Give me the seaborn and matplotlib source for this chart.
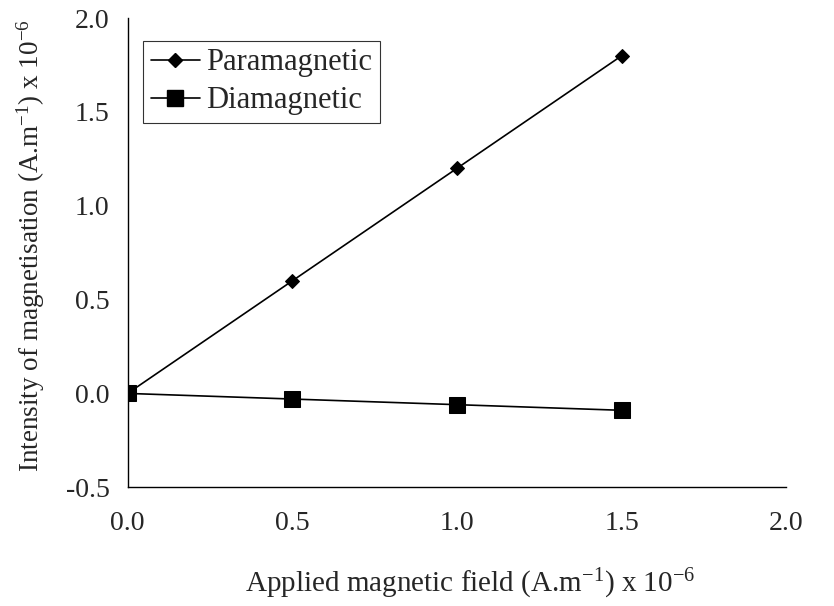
import matplotlib
matplotlib.use("Agg")
import matplotlib.pyplot as plt
import seaborn as sns
import pandas as pd
from matplotlib.lines import Line2D

field = [0.0, 0.5, 1.0, 1.5]
paramagnetic = [0.0, 0.6, 1.2, 1.8]
diamagnetic = [0.0, -0.03, -0.06, -0.09]
series_names = ["Paramagnetic", "Diamagnetic"]
x_ticks = [0.0, 0.5, 1.0, 1.5, 2.0]
y_ticks = [-0.5, 0.0, 0.5, 1.0, 1.5, 2.0]

df = pd.DataFrame({
    "x": field * 2,
    "y": paramagnetic + diamagnetic,
    "series": [series_names[0]] * len(field) + [series_names[1]] * len(field),
})

sns.set_style("white")
plt.rcParams["font.family"] = ["Liberation Serif", "DejaVu Serif"]
plt.rcParams["mathtext.fontset"] = "custom"
plt.rcParams["mathtext.rm"] = "Liberation Serif"
plt.rcParams["mathtext.it"] = "Liberation Serif:italic"

fig = plt.figure(figsize=(8.34, 6.06), dpi=100)
ax = fig.add_axes([0.153, 0.196, 0.79, 0.774])

sns.lineplot(data=df, x="x", y="y", hue="series", style="series",
             palette={"Paramagnetic": "black", "Diamagnetic": "black"},
             markers={"Paramagnetic": "D", "Diamagnetic": "s"},
             dashes=False, linewidth=1.2, ax=ax, legend=False)
for line, ms in zip(ax.lines, [7.5, 12]):
    line.set_markersize(ms)
    line.set_markeredgecolor("black")
    line.set_markerfacecolor("black")

ax.set_xlim(0, 2.0)
ax.set_ylim(-0.5, 2.0)
ax.set_xticks(x_ticks)
ax.set_yticks(y_ticks)
ax.set_xticklabels([f"{v:.1f}" for v in x_ticks], fontsize=20)
ax.set_yticklabels([f"{v:.1f}" for v in y_ticks], fontsize=20)
ax.tick_params(axis="both", direction="out", length=5, width=1, color="black")
ax.tick_params(axis="x", pad=12)
ax.tick_params(axis="y", pad=8)

for s in ["top", "right"]:
    ax.spines[s].set_visible(False)
for s in ["left", "bottom"]:
    ax.spines[s].set_color("black")
    ax.spines[s].set_linewidth(1)

ax.set_xlabel("Applied magnetic field (A.m$^{-1}$) x 10$^{-6}$", fontsize=21)
ax.set_ylabel("Intensity of magnetisation (A.m$^{-1}$) x 10$^{-6}$", fontsize=19.5)
ax.xaxis.set_label_coords(0.52, -0.17)
ax.yaxis.set_label_coords(-0.122, 0.515)

handles = [
    Line2D([0], [0], color="black", marker="D", markersize=7.5, lw=1.2),
    Line2D([0], [0], color="black", marker="s", markersize=12, lw=1.2),
]
leg = ax.legend(handles, series_names, loc="upper left", bbox_to_anchor=(0.024, 0.952),
                fontsize=22, frameon=True, fancybox=False, handlelength=1.6,
                handletextpad=0.2, borderpad=0.25, labelspacing=0.3,
                borderaxespad=0)
leg.get_frame().set_edgecolor("black")
leg.get_frame().set_linewidth(0.8)

fig.savefig("out.png", dpi=100)
